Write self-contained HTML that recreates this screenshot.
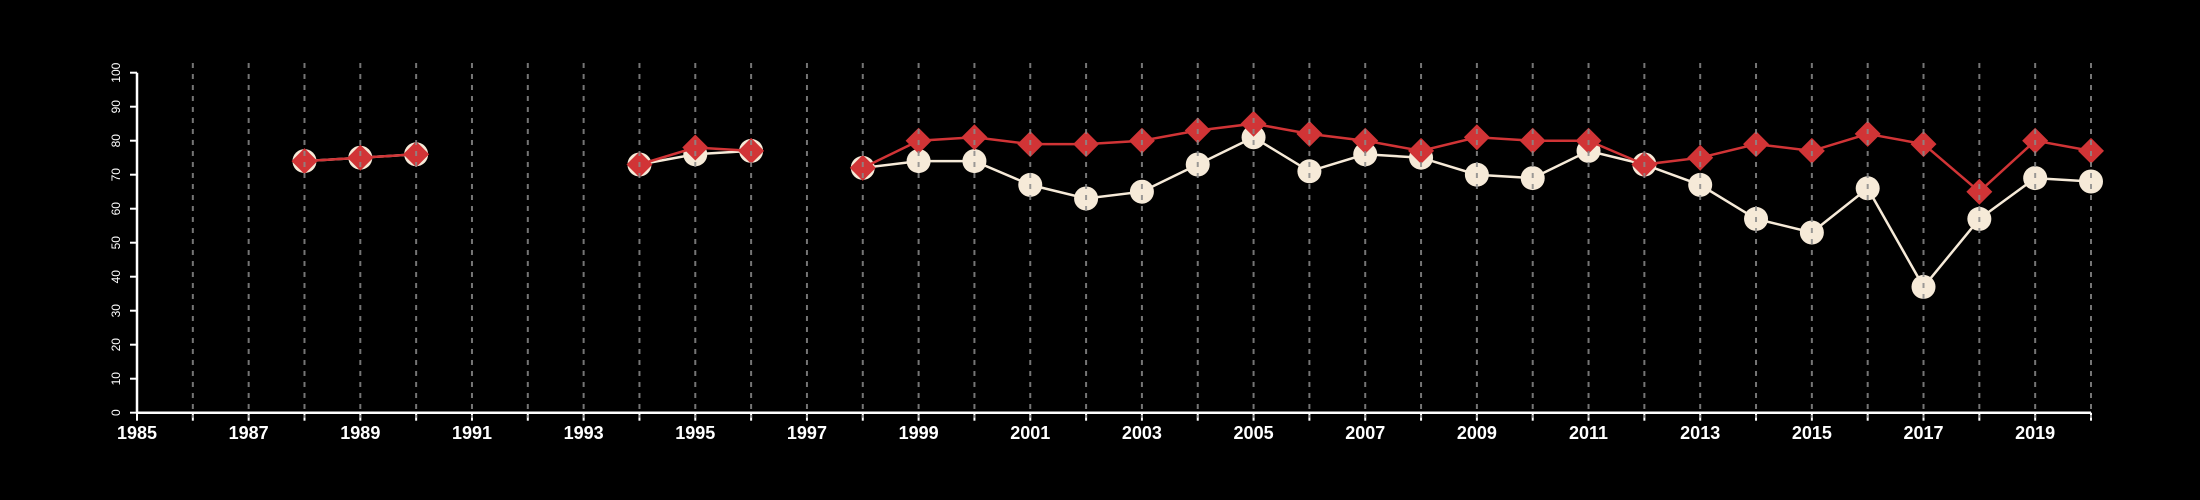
<!DOCTYPE html>
<html><head><meta charset="utf-8"><style>
html,body{margin:0;padding:0;background:#000;}
svg{display:block;font-family:"Liberation Sans",sans-serif;}
</style></head><body>
<svg id="chart" width="2200" height="500" viewBox="0 0 2200 500"></svg>
<script>
const years=[1988,1989,1990,1991,1992,1993,1994,1995,1996,1997,1998,1999,2000,2001,2002,2003,2004,2005,2006,2007,2008,2009,2010,2011,2012,2013,2014,2015,2016,2017,2018,2019,2020];
const redValues=[74,75,76,null,null,null,73,78,77,null,72,80,81,79,79,80,83,85,82,80,77,81,80,80,73,75,79,77,82,79,65,80,77];
const creamValues=[74,75,76,null,null,null,73,76,77,null,72,74,74,67,63,65,73,81,71,76,75,70,69,77,73,67,57,53,66,37,57,69,68];
const yTicks=[0,10,20,30,40,50,60,70,80,90,100];
const xLabels=[1985,1987,1989,1991,1993,1995,1997,1999,2001,2003,2005,2007,2009,2011,2013,2015,2017,2019];
const xMin=1985,xMax=2020,x0=137,x1=2091,y0=412.7,y1=72.7;
const X=v=>x0+(v-xMin)/(xMax-xMin)*(x1-x0);
const Y=v=>y0-(v/100)*(y0-y1);
const svg=document.getElementById('chart');
const NS='http://www.w3.org/2000/svg';
function mk(tag,attrs,parent){const e=document.createElementNS(NS,tag);for(const k in attrs)e.setAttribute(k,attrs[k]);(parent||svg).appendChild(e);return e;}
// axes
const ax=mk('g',{});


const yl=mk('line',{x1:x0,y1:y1,x2:x0,y2:y0,stroke:'#fff','stroke-width':2.5},ax);


const xl=mk('line',{x1:x0,y1:y0,x2:x1,y2:y0,stroke:'#fff','stroke-width':2.5},ax);


yTicks.forEach(t=>{
  const tk=mk('line',{x1:x0-7,y1:Y(t),x2:x0,y2:Y(t),stroke:'#fff','stroke-width':2},ax);
  
  
  const tx=mk('text',{x:0,y:0,transform:`translate(${x0-17},${Y(t)}) rotate(-90)`,fill:'#fff','font-size':12,'text-anchor':'middle'},ax);
  tx.textContent=t;
  
  
});
for(let yr=xMin;yr<=xMax;yr++){
  const tk=mk('line',{x1:X(yr),y1:y0,x2:X(yr),y2:y0+8,stroke:'#fff','stroke-width':2},ax);
  
  
}
xLabels.forEach(yr=>{
  const tx=mk('text',{x:X(yr),y:439,fill:'#fff','font-size':18,'font-weight':'bold','text-anchor':'middle'},ax);
  tx.textContent=yr;
  
  
});
function series(vals,color,name,shape){
  const g=mk('g',{});
  
  
  let seg=[];
  const segs=[];
  vals.forEach((v,i)=>{if(v==null){if(seg.length)segs.push(seg);seg=[];}else seg.push([X(years[i]),Y(v)]);});
  if(seg.length)segs.push(seg);
  segs.forEach(s=>{
    const p=mk('polyline',{points:s.map(q=>q.join(',')).join(' '),fill:'none',stroke:color,'stroke-width':2.5},g);
    
    
  });
  vals.forEach((v,i)=>{
    if(v==null)return;
    const cx=X(years[i]),cy=Y(v);
    let m;
    if(shape==='circle') m=mk('circle',{cx:cx,cy:cy,r:12,fill:color},g);
    else m=mk('polygon',{points:`${cx},${cy-13} ${cx+13},${cy} ${cx},${cy+13} ${cx-13},${cy}`,fill:color},g);
    
    
  });
}
series(creamValues,'#f6ead8','cream-series','circle');
series(redValues,'#d13436','red-series','diamond');
// gridlines on top
const gg=mk('g',{});


for(let yr=xMin+1;yr<=xMax;yr++){
  const l=mk('line',{x1:X(yr),y1:63,x2:X(yr),y2:y0+5,stroke:'#8a8a8a','stroke-width':2,'stroke-dasharray':'5,6',opacity:0.85},gg);
  
  
}
</script>
</body></html>
